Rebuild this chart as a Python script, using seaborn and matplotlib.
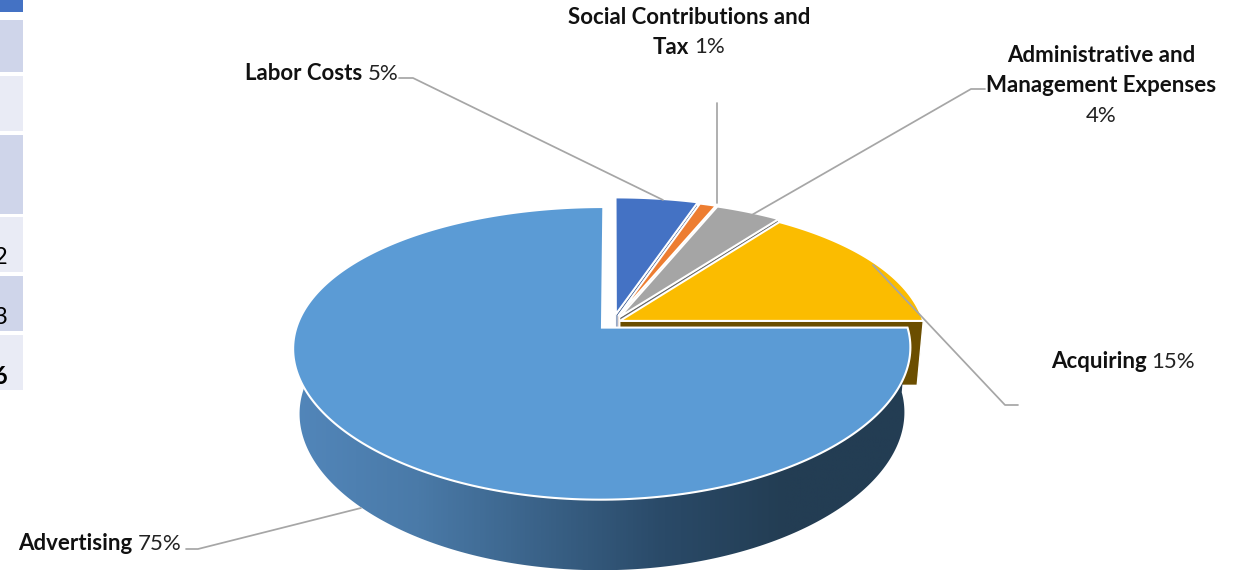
import numpy as np
import matplotlib
matplotlib.use("Agg")
import matplotlib.pyplot as plt
from matplotlib.colors import LinearSegmentedColormap
from matplotlib.path import Path
from matplotlib.patches import Polygon, Rectangle
from matplotlib.transforms import Transform
import seaborn as sns

# Cost breakdown, clockwise from twelve o'clock
categories = ["Labor Costs", "Social Contributions and Tax",
              "Administrative and Management Expenses", "Acquiring", "Advertising"]
shares = [5, 1, 4, 15, 75]
slice_colors = ["#4472C4", "#ED7D31", "#A5A5A5", "#FBBC00", "#5B9BD5"]
face_colors = ["#2B4C85", "#B05A20", "#666666", "#6B4E00", "#4A80B0"]
pull_out = [0.06, 0.05, 0.045, 0.025, 0.051]

# Fragment of a neighbouring table at the left edge
table_rows = [(0, 12, "#4472C4"), (20, 72, "#CFD5EA"), (76, 131, "#E9EBF5"),
              (135, 214, "#CFD5EA"), (217, 272, "#E9EBF5"),
              (276, 331, "#CFD5EA"), (335, 390, "#E9EBF5")]
table_digits = [("2", 258, "normal"), ("3", 317, "normal"), ("6", 376, "bold")]

sns.set_theme(style="white")
plt.rcParams["font.family"] = ["Lato", "DejaVu Sans"]
palette = sns.color_palette(slice_colors)

W, H = 1243, 570
fig = plt.figure(figsize=(W / 100, H / 100), dpi=100, facecolor="white")
ax = fig.add_axes([0, 0, 1, 1])

# Oblique view of the disc: pie units to pixel positions
CX, CY = 613.0, 322.5
KX, KY, KD = 0.14, 0.175, 0.083
A, B, DROP, SHRINK = 140.0, 304.0, 64.5, 0.02


def project(x, y, z=0.0):
    x, y = np.asarray(x), np.asarray(y)
    px = CX + B * x / (1 + KX * y + SHRINK * z)
    py = CY - A * y / (1 + KY * y) + DROP * z / (1 + KD * y)
    return px, py


class Oblique(Transform):
    input_dims = output_dims = 2
    is_separable = False
    has_inverse = False

    def transform_non_affine(self, values):
        xs, ys = project(values[:, 0], values[:, 1])
        return np.column_stack([xs, ys])

    def transform_path_non_affine(self, path):
        # Flatten the arcs at a large scale so the outline stays smooth
        big_path = Path(path.vertices * 2000.0, path.codes)
        ring = big_path.to_polygons(closed_only=False)[0] / 2000.0
        return Path(self.transform_non_affine(ring), closed=True)


wedges, _ = ax.pie(shares, explode=pull_out, startangle=90, counterclock=False,
                   colors=palette, radius=1.0,
                   wedgeprops=dict(edgecolor="white", linewidth=1.5))
ax.set_aspect("auto")
ax.set_xlim(0, W)
ax.set_ylim(H, 0)
ax.axis("off")

oblique = Oblique() + ax.transData
for order, wedge in zip([4, 5, 3, 6, 7], wedges):
    wedge.set_transform(oblique)
    wedge.set_zorder(order)
    wedge.set_clip_on(False)


def edge_point(wedge, angle, radius=1.0):
    cx, cy = wedge.center
    return cx + radius * np.cos(np.radians(angle)), cy + radius * np.sin(np.radians(angle))


# Cut faces exposed on the clockwise edge of the pulled-out slices
for wedge, color in zip(wedges[:4], face_colors[:4]):
    corners = [edge_point(wedge, wedge.theta1, r) for r in (0, 1)]
    top = [project(*c, 0) for c in corners]
    low = [project(*c, 1) for c in corners]
    ax.add_patch(Polygon(top + low[::-1], closed=True, facecolor=color,
                         edgecolor="white", linewidth=1.0, zorder=1))

# Rim of the large slice, shaded from left to right
big = wedges[-1]
rim_angles = np.linspace(172, 360, 240)
rim_x, rim_y = edge_point(big, rim_angles)
upper = np.column_stack(project(rim_x, rim_y, 0))
lower = np.column_stack(project(rim_x, rim_y, 1))
outline = np.vstack([upper, lower[::-1]])
rim_shade = LinearSegmentedColormap.from_list(
    "rim", ["#5286BA", "#4A7AA8", "#3A6288", "#2A4A68", "#233D53", "#233D53"])
shade = ax.imshow(np.linspace(0, 1, 400)[None, :], cmap=rim_shade, aspect="auto",
                  extent=(outline[:, 0].min(), outline[:, 0].max(),
                          outline[:, 1].max(), outline[:, 1].min()), zorder=2)
rim_clip = Polygon(outline, closed=True, transform=ax.transData, facecolor="none", edgecolor="none")
ax.add_patch(rim_clip)
shade.set_clip_path(rim_clip)
ax.set_xlim(0, W)
ax.set_ylim(H, 0)

# Leader lines
leaders = [[(399, 78), (413, 78), (663, 200)],
           [(717, 103), (717, 203)],
           [(985, 89), (971, 89), (750, 216)],
           [(1018, 405), (1005, 405), (873, 265)],
           [(186, 549), (198, 549), (361, 508)]]
for run in leaders:
    xs, ys = zip(*run)
    ax.plot(xs, ys, color="#A6A6A6", lw=1.25, zorder=9, solid_joinstyle="round")

for top, bottom, color in table_rows:
    ax.add_patch(Rectangle((0, top), 23, bottom - top, facecolor=color, edgecolor="none", zorder=1))
for digit, y, weight in table_digits:
    ax.text(7.5, y, digit, ha="right", va="center", fontsize=17, fontweight=weight,
            color="black", clip_on=True, zorder=10)

# Labels: bold name runs followed by a regular percentage
renderer = fig.canvas.get_renderer()
FS = 16


def text_line(cx, y, bold, regular):
    parts = []
    if bold:
        parts.append(ax.text(0, y, bold, fontsize=FS, fontweight="bold", color="#111111",
                             va="center", ha="left", zorder=10))
    if regular:
        parts.append(ax.text(0, y, regular, fontsize=FS, color="#222222",
                             va="center", ha="left", zorder=10))
    gap = 5 if bold and regular else 0
    widths = [p.get_window_extent(renderer).width for p in parts]
    x = cx - (sum(widths) + gap) / 2
    for p, w in zip(parts, widths):
        p.set_x(x)
        x += w + gap


pct = dict(zip(categories, shares))
text_line(689, 17, "Social Contributions and", "")
text_line(689, 47, "Tax", f"{pct[categories[1]]}%")
text_line(322, 73.5, categories[0], f"{pct[categories[0]]}%")
text_line(1101, 55.5, "Administrative and", "")
text_line(1101, 85.5, "Management Expenses", "")
text_line(1101, 115.5, "", f"{pct[categories[2]]}%")
text_line(1123, 361.5, categories[3], f"{pct[categories[3]]}%")
text_line(100, 543.5, categories[4], f"{pct[categories[4]]}%")

fig.savefig("out.png", dpi=100, facecolor="white")
